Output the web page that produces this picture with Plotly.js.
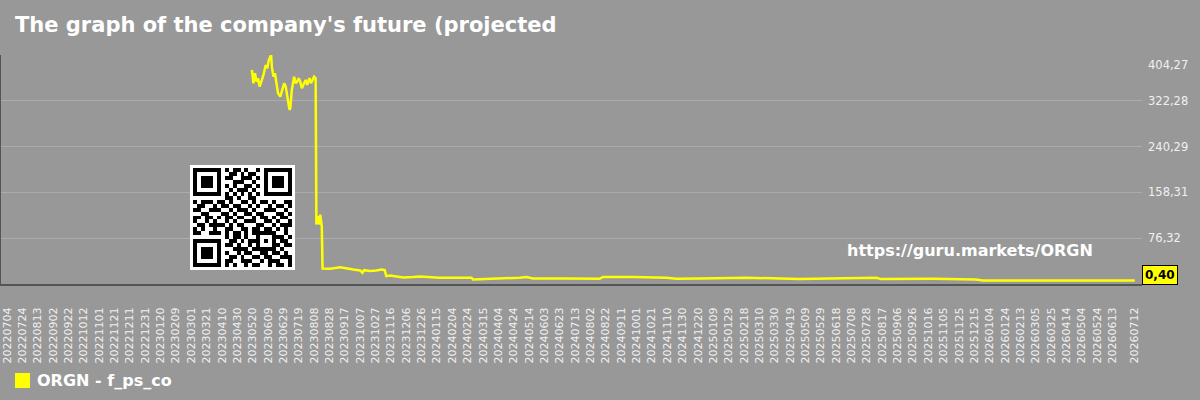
<!DOCTYPE html>
<html><head><meta charset="utf-8">
<script src="https://cdn.plot.ly/plotly-3.0.1.min.js"></script>
<style>html,body{margin:0;padding:0;background:#989898;}#chart{width:1200px;height:400px;}</style>
</head><body><div id="chart"></div>
<script>
const seriesName = "ORGN - f_ps_co";
const titleText = "The graph of the company's future (projected";
const watermark = "https://guru.markets/ORGN";

const dates = [
 "2023-05-19","2023-05-21","2023-05-23","2023-05-25","2023-05-27","2023-05-29","2023-06-01","2023-06-03",
 "2023-06-06","2023-06-08","2023-06-10","2023-06-13","2023-06-14","2023-06-16","2023-06-18","2023-06-20",
 "2023-06-22","2023-06-25","2023-06-27","2023-06-30","2023-07-02","2023-07-04","2023-07-07","2023-07-08",
 "2023-07-10","2023-07-13","2023-07-15","2023-07-17","2023-07-19","2023-07-21","2023-07-23","2023-07-26",
 "2023-07-28","2023-07-30","2023-08-02","2023-08-04","2023-08-06","2023-08-08","2023-08-10","2023-08-11",
 "2023-08-13","2023-08-15","2023-08-16","2023-08-18","2023-08-19","2023-08-29","2023-09-11","2023-09-19",
 "2023-09-28","2023-10-07","2023-10-10","2023-10-12","2023-10-20","2023-10-28","2023-11-04","2023-11-08",
 "2023-11-10","2023-11-15","2023-11-23","2023-12-02","2023-12-15","2023-12-24","2024-01-18","2024-02-29",
 "2024-03-02","2024-04-06","2024-05-02","2024-05-11","2024-05-19","2024-07-02","2024-08-14","2024-08-18",
 "2024-09-22","2024-09-27","2024-11-09","2024-11-22","2024-12-22","2025-02-21","2025-05-01","2025-07-27",
 "2025-08-09","2025-08-16","2025-10-22","2025-12-17","2025-12-26","2026-03-01","2026-04-14","2026-07-12"
];
const values = [
 377.5,353.7,371.6,356.6,362.7,347.7,359.6,368.5,
 386.4,380.5,395.3,404.27,383.4,365.5,371.6,350.7,
 335.9,329.8,338.7,353.7,347.7,329.8,306.0,309.0,
 341.8,365.5,353.7,356.6,362.7,356.6,344.7,353.7,
 359.6,350.7,362.7,353.7,359.6,365.5,362.7,100.7,
 115.5,100.7,118.6,97.7,22.2,21.8,24.5,22.2,
 20.4,18.6,14.5,19.1,17.4,18.6,20.4,19.1,
 8.4,9.7,8.4,6.1,6.7,7.9,5.6,5.6,
 2.5,3.7,5.6,6.7,4.3,4.3,3.7,6.7,
 7.5,6.7,5.6,3.7,4.3,5.6,3.1,4.3,
 5.6,3.1,3.7,2.5,0.8,0.8,0.6,0.40
];
const tickDates = [
 "2022-07-04","2022-07-24","2022-08-13","2022-09-02","2022-09-22","2022-10-12","2022-11-01","2022-11-21",
 "2022-12-11","2022-12-31","2023-01-20","2023-02-09","2023-03-01","2023-03-21","2023-04-10","2023-04-30",
 "2023-05-20","2023-06-09","2023-06-29","2023-07-19","2023-08-08","2023-08-28","2023-09-17","2023-10-07",
 "2023-10-27","2023-11-16","2023-12-06","2023-12-26","2024-01-15","2024-02-04","2024-02-24","2024-03-15",
 "2024-04-04","2024-04-24","2024-05-14","2024-06-03","2024-06-23","2024-07-13","2024-08-02","2024-08-22",
 "2024-09-11","2024-10-01","2024-10-21","2024-11-10","2024-11-30","2024-12-20","2025-01-09","2025-01-29",
 "2025-02-18","2025-03-10","2025-03-30","2025-04-19","2025-05-09","2025-05-29","2025-06-18","2025-07-08",
 "2025-07-28","2025-08-17","2025-09-06","2025-09-26","2025-10-16","2025-11-05","2025-11-25","2025-12-15",
 "2026-01-04","2026-01-24","2026-02-13","2026-03-05","2026-03-25","2026-04-14","2026-05-04","2026-05-24",
 "2026-06-13","2026-07-12"
];
const tickLabels = tickDates.map(d => d.replace(/-/g, ""));
const yTickVals = [76.32, 158.31, 240.29, 322.28, 404.27];
const yTickLabels = yTickVals.map(v => v.toFixed(2).replace(".", ","));
const yRange = [-5.67, 404.27];
const lastValue = values[values.length - 1];

// QR-like decoration (module matrix)
const qrRows = [
 "1111111010110100101111111",
 "1000001001101011001000001",
 "1011101011001110101011101",
 "1011101000111001001011101",
 "1011101010100110101011101",
 "1000001001011101001000001",
 "1111111010101010101111111",
 "0000000011010011000000000",
 "1011101101001101011010011",
 "0110010110110010100101101",
 "1100111001011101001110010",
 "0011000110100110110001101",
 "1101101011011001011010110",
 "1001010010100111001101001",
 "0110111101011000110010111",
 "1010010011001101101101010",
 "1100111010110101111110010",
 "0000000010110100100011101",
 "1111111001101011101010110",
 "1000001011010010100011011",
 "1011101000111101111110100",
 "1011101010010110011011010",
 "1011101001101001101100111",
 "1000001011001110010111001",
 "1111111010100101100101101"
];
let qrPath = "";
qrRows.forEach((row, r) => { for (let c = 0; c < row.length; c++) if (row[c] === "1") qrPath += `M${c} ${r}h1v1h-1z`; });
const qrSvg = `<svg xmlns="http://www.w3.org/2000/svg" viewBox="-0.8 -0.8 26.6 26.6" shape-rendering="crispEdges"><rect x="-0.8" y="-0.8" width="26.6" height="26.6" fill="#fff"/><path d="${qrPath}" fill="#000"/></svg>`;
const qrSrc = "data:image/svg+xml;charset=utf-8," + encodeURIComponent(qrSvg);

const trace = {
  x: dates, y: values, type: "scatter", mode: "lines",
  line: {color: "#ffff00", width: 2.5}, name: seriesName, showlegend: false,
  connectgaps: true
};

const W = 1200, H = 400, ML = 0, MR = 58, MT = 55, MB = 116;
const PW = W - ML - MR, PH = H - MT - MB;
const px = x => (x - ML) / PW;
const py = y => (H - MB - y) / PH;

// the top tick label is drawn slightly below its gridline, as in the source
const yTickTextShown = yTickLabels.map((t, i) => i === yTickLabels.length - 1 ? "" : t);

const layout = {
  width: W, height: H,
  margin: {l: ML, r: MR, t: MT, b: MB, pad: 0},
  paper_bgcolor: "#989898", plot_bgcolor: "#989898",
  font: {family: "DejaVu Sans", color: "#f2f2f2"},
  title: {text: "<b>" + titleText + "</b>", font: {family: "DejaVu Sans", size: 21, color: "#ffffff"},
          x: 15 / W, xref: "container", xanchor: "left", y: 1 - 25 / H, yref: "container", yanchor: "middle"},
  xaxis: {
    type: "date", range: ["2022-06-24 21:00", "2026-07-21 09:00"],
    tickmode: "array", tickvals: tickDates, ticktext: tickLabels, tickangle: -90,
    tickfont: {family: "DejaVu Sans", size: 11, color: "#f0f0f0"},
    ticks: "", ticklabelstandoff: 17,
    showgrid: false, zeroline: false,
    showline: true, linecolor: "#555555", linewidth: 2
  },
  yaxis: {
    side: "right", range: yRange, tickmode: "array", tickvals: yTickVals, ticktext: yTickTextShown,
    tickfont: {family: "DejaVu Sans", size: 11.5, color: "#f0f0f0"},
    ticks: "", ticklabelstandoff: 5,
    showgrid: true, gridcolor: "#ababab", gridwidth: 1, zeroline: false, showline: false
  },
  shapes: [
    {type: "line", xref: "paper", yref: "paper", x0: 0, x1: 0, y0: 0, y1: 1, line: {color: "#555555", width: 2}},
    {type: "rect", xref: "paper", yref: "paper", x0: px(15), x1: px(30), y0: py(388), y1: py(373),
     fillcolor: "#ffff00", line: {width: 0}}
  ],
  images: [
    {source: qrSrc, xref: "paper", yref: "paper", x: px(190), y: py(165), sizex: 105 / PW, sizey: 105 / PH,
     xanchor: "left", yanchor: "top", sizing: "stretch", layer: "above"}
  ],
  annotations: [
    {text: yTickLabels[yTickLabels.length - 1], xref: "paper", yref: "paper", x: 1, y: py(65),
     xanchor: "left", yanchor: "middle", xshift: 4, showarrow: false,
     font: {family: "DejaVu Sans", size: 11.5, color: "#f0f0f0"}},
    {text: "<b>" + seriesName + "</b>", xref: "paper", yref: "paper", x: px(35), y: py(380),
     xanchor: "left", yanchor: "middle", showarrow: false,
     font: {family: "DejaVu Sans", size: 16, color: "#ffffff"}},
    {text: "<b>" + watermark + "</b>", xref: "paper", yref: "paper", x: px(970), y: py(250),
     xanchor: "center", yanchor: "middle", showarrow: false,
     font: {family: "DejaVu Sans", size: 16, color: "#ffffff"}},
    {text: "<b>" + lastValue.toFixed(2).replace(".", ",") + "</b>", xref: "paper", yref: "y", x: 1, y: lastValue,
     xanchor: "left", yanchor: "middle", yshift: 6, showarrow: false,
     bgcolor: "#ffff00", bordercolor: "#000000", borderwidth: 1, borderpad: 2,
     font: {family: "DejaVu Sans", size: 12, color: "#000000"}}
  ]
};

Plotly.newPlot("chart", [trace], layout, {staticPlot: true, displayModeBar: false});
</script>
</body></html>
